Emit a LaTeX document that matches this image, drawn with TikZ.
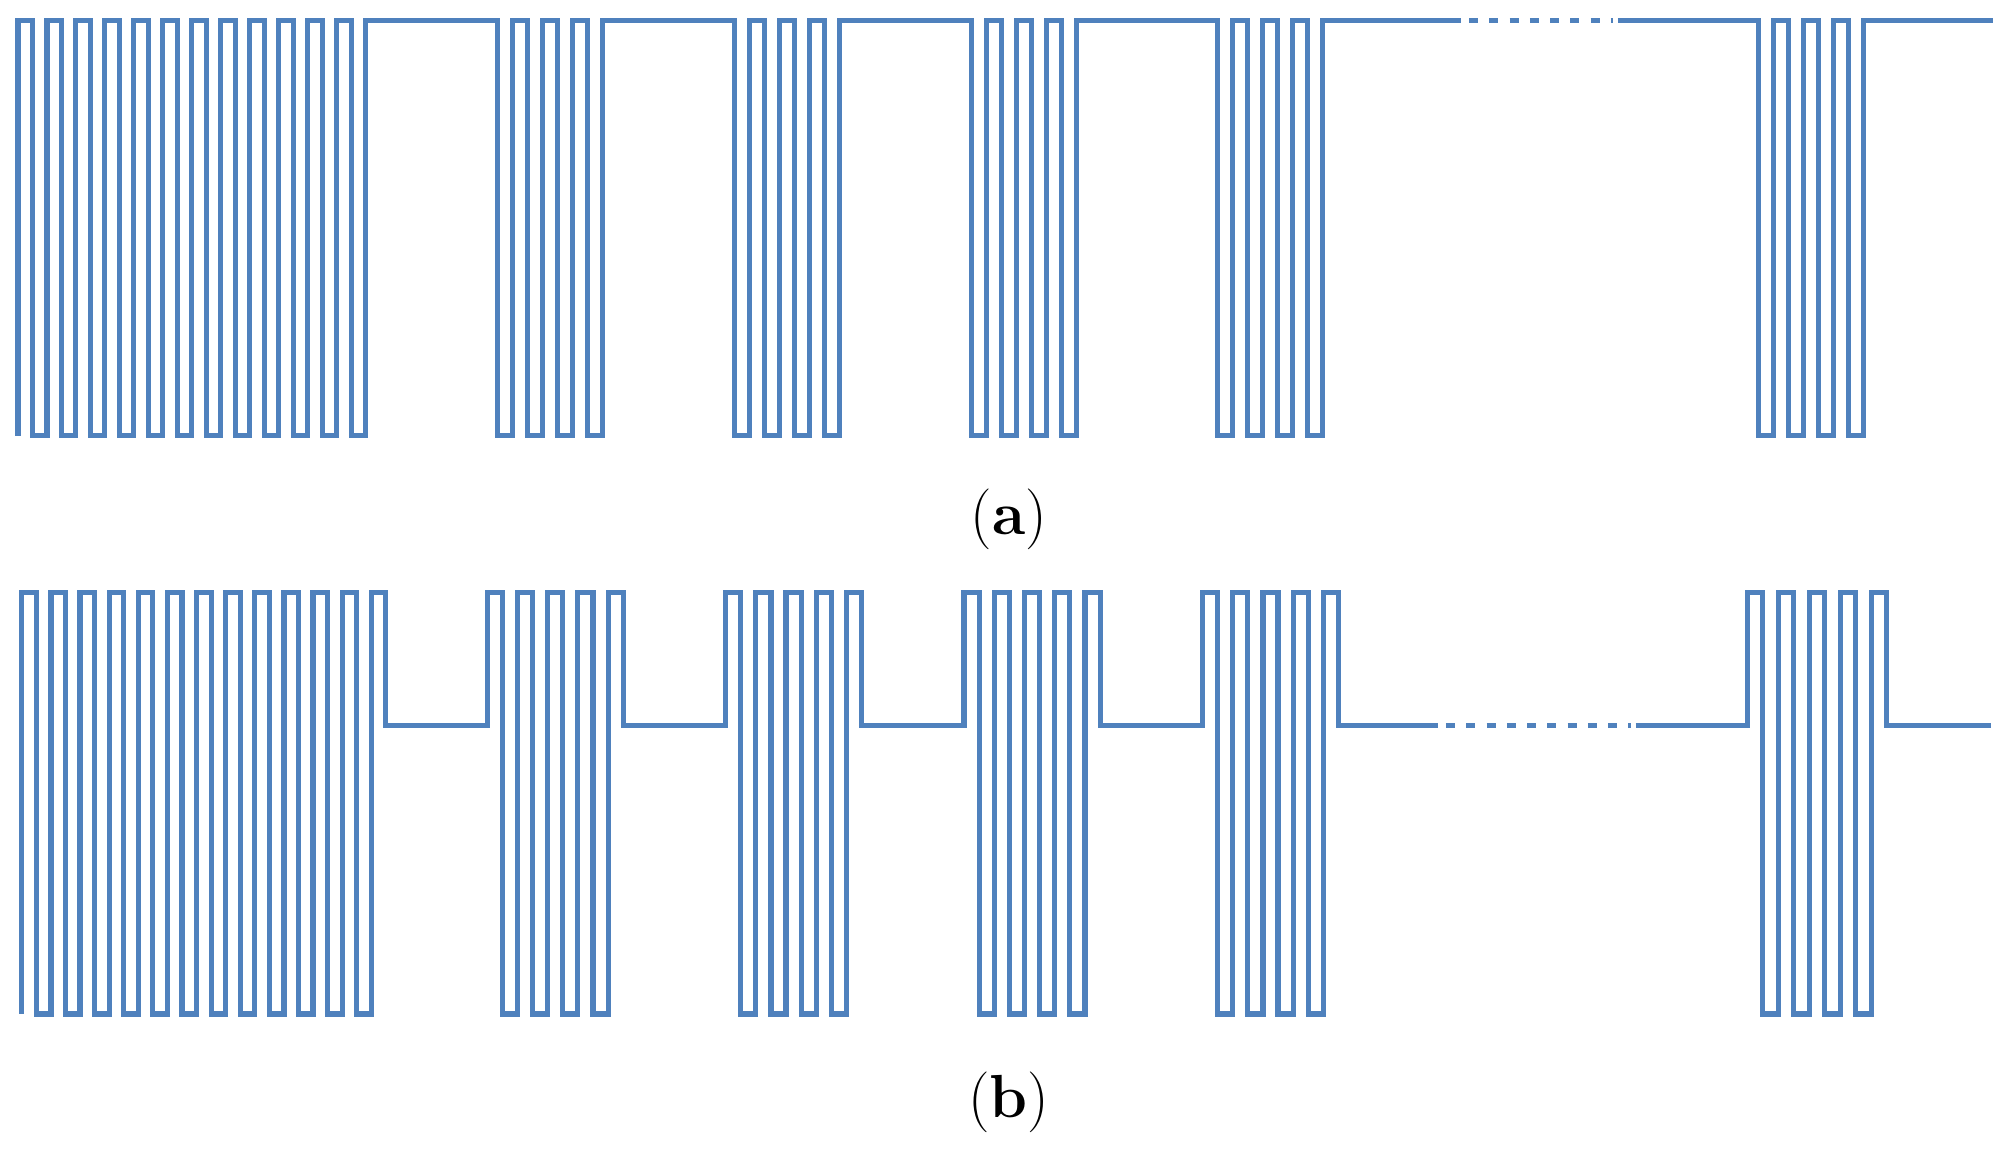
\documentclass[tikz,border=0pt]{standalone}
\begin{document}
\begin{tikzpicture}[x=0.02cm,y=-0.02cm,
  wave/.style={draw={rgb,255:red,79;green,129;blue,189},line width=2.3pt,line join=miter},
  dots/.style={wave,dash pattern=on 4pt off 5pt},
  lab/.style={font=\fontsize{27}{30}\selectfont}]
\useasboundingbox (0,0) rectangle (1568,909);
% ---------- (a) ----------
\def\ha{11.3}
\draw[wave] (14,340) foreach \i in {1,...,12}{ -- ++(0,-324) -- ++(\ha,0) -- ++(0,324) -- ++(\ha,0)} -- ++(0,-324)
  foreach \s in {388,573,758,950}{ -- (\s,16) -- (\s,340)
    foreach \j in {1,2,3}{ -- ++(11.7,0) -- ++(0,-324) -- ++(11.7,0) -- ++(0,324)} -- ++(11.7,0) -- ++(0,-324)} -- (1140,16);
\draw[dots] (1146,16) -- (1258,16);
\draw[wave] (1262,16) -- (1372,16) -- (1372,340)
    foreach \j in {1,2,3}{ -- ++(11.7,0) -- ++(0,-324) -- ++(11.7,0) -- ++(0,324)} -- ++(11.7,0) -- ++(0,-324) -- (1555,16);
\node[lab] (la) at (787,405) {(\textbf{a})};
% ---------- (b) ----------
\def\hb{11.36}
\draw[wave] (17,791) foreach \i in {1,...,12}{ -- ++(0,-329) -- ++(\hb,0) -- ++(0,329) -- ++(\hb,0)} -- ++(0,-329) -- ++(\hb,0) -- ++(0,104)
  foreach \s in {380,566,752,938}{ -- (\s,566) -- (\s,462)
    foreach \j in {1,...,4}{ -- ++(11.8,0) -- ++(0,329) -- ++(11.8,0) -- ++(0,-329)} -- ++(11.8,0) -- ++(0,104)} -- (1122,566);
\draw[dots] (1128,566) -- (1272,566);
\draw[wave] (1276,566) -- (1363,566) -- (1363,462)
    foreach \j in {1,...,4}{ -- ++(12.1,0) -- ++(0,329) -- ++(12.1,0) -- ++(0,-329)} -- ++(12.1,0) -- ++(0,104) -- (1553,566);
\node[lab] (lb) at (787,860) {(\textbf{b})};
\end{tikzpicture}
\end{document}
